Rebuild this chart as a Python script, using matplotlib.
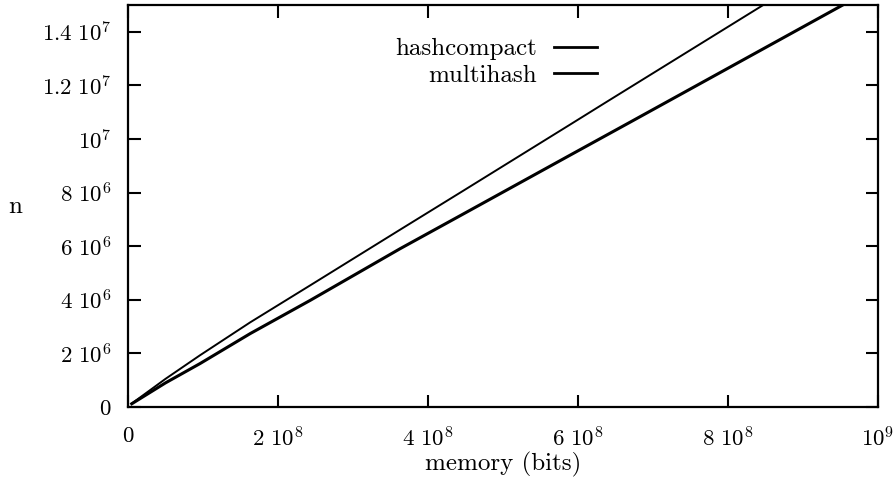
import matplotlib
matplotlib.use("Agg")
import matplotlib.pyplot as plt

# memory (bits) and n values
hc_mem = [0.05e8, 0.5e8, 0.96e8, 1.63e8, 2.43e8, 3.63e8, 4.43e8, 5.89e8, 6.39e8, 8.47e8]
hc_n = [0.13e6, 1.05e6, 1.93e6, 3.16e6, 4.54e6, 6.62e6, 8.0e6, 10.53e6, 11.4e6, 15.0e6]

mh_mem = [0.05e8, 0.5e8, 0.96e8, 1.63e8, 2.43e8, 3.63e8, 4.43e8, 5.89e8, 6.69e8, 9.53e8]
mh_n = [0.12e6, 0.9e6, 1.62e6, 2.74e6, 3.98e6, 5.91e6, 7.14e6, 9.39e6, 10.62e6, 15.0e6]

xticks = [0, 2e8, 4e8, 6e8, 8e8, 1e9]
xlabels = [r"$0$", r"$2\ 10^{8}$", r"$4\ 10^{8}$", r"$6\ 10^{8}$", r"$8\ 10^{8}$", r"$10^{9}$"]
yticks = [0, 2e6, 4e6, 6e6, 8e6, 1e7, 1.2e7, 1.4e7]
ylabels = [r"$0$", r"$2\ 10^{6}$", r"$4\ 10^{6}$", r"$6\ 10^{6}$", r"$8\ 10^{6}$",
           r"$10^{7}$", r"$1.2\ 10^{7}$", r"$1.4\ 10^{7}$"]

plt.rcParams['mathtext.fontset'] = 'cm'
plt.rcParams['font.family'] = ['cmr10', 'DejaVu Serif']
plt.rcParams['axes.unicode_minus'] = False

fig = plt.figure(figsize=(8.96, 4.8), dpi=100)
ax = fig.add_axes([128/896, 1-407/480, 750/896, 402/480])

ax.plot(hc_mem, hc_n, color='black', lw=1.4, label='hashcompact')
ax.plot(mh_mem, mh_n, color='black', lw=2.2, label='multihash')

ax.set_xlim(0, 1e9)
ax.set_ylim(0, 1.5e7)
ax.set_xticks(xticks)
ax.set_xticklabels(xlabels, fontsize=16.5)
ax.set_yticks(yticks)
ax.set_yticklabels(ylabels, fontsize=16.5)
ax.tick_params(direction='in', length=9, width=1.5, top=True, right=True)
ax.tick_params(axis='x', pad=14)
ax.tick_params(axis='y', pad=12)
for s in ax.spines.values():
    s.set_linewidth(1.6)

ax.set_xlabel('memory (bits)', fontsize=18, labelpad=1)
fig.text(15/896, 1-207/480, 'n', fontsize=18, ha='center', va='center')

leg = ax.legend(loc='upper left', bbox_to_anchor=((385-128)/750, 1-(28-5)/402),
                frameon=False, fontsize=18, markerfirst=False, handlelength=1.7,
                handletextpad=0.7, labelspacing=0.15, borderaxespad=0)
for t in leg.get_texts():
    t.set_ha('right')
for line in leg.get_lines():
    line.set_linewidth(2.0)

fig.savefig('out.png', dpi=100)
